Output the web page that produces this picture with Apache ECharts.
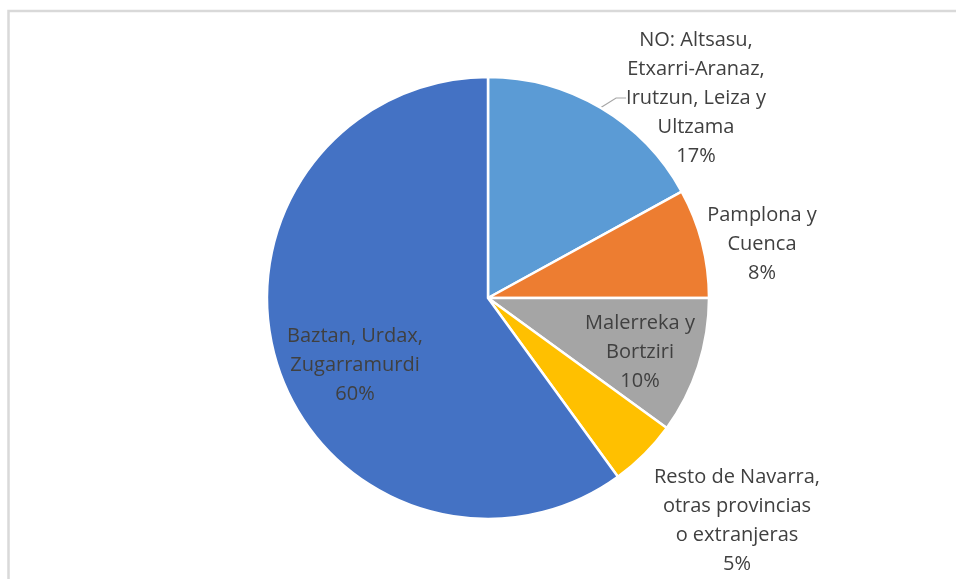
<!DOCTYPE html>
<html>
<head>
<meta charset="utf-8">
<script src="https://cdn.jsdelivr.net/npm/echarts@6/dist/echarts.min.js"></script>
<style>
  html, body { margin: 0; padding: 0; background: #fff; }
  #chart { width: 956px; height: 579px; }
</style>
</head>
<body>
<div id="chart"></div>
<script>
// slices, clockwise from 12 o'clock
const categories = [
  'NO: Altsasu,\nEtxarri-Aranaz,\nIrutzun, Leiza y\nUltzama',
  'Pamplona y\nCuenca',
  'Malerreka y\nBortziri',
  'Resto de Navarra,\notras provincias\no extranjeras',
  'Baztan, Urdax,\nZugarramurdi'
];
const shares = [17, 8, 10, 5, 60];
const colors = ['#5B9BD5', '#ED7D31', '#A5A5A5', '#FFC000', '#4472C4'];

// label block centres (px), one per slice
const labelSpots = [[696, 98], [762, 244], [640, 352], [737, 521], [355, 365]];
const showLine = [true, false, false, false, false];

const myChart = echarts.init(document.getElementById('chart'));
const option = {
  animation: false,
  graphic: [
    {
      type: 'rect',
      shape: { x: 8.5, y: 11, width: 1200, height: 1200 },
      style: { fill: 'none', stroke: '#d9d9d9', lineWidth: 2.5 },
      silent: true
    }
  ],
  series: [
    {
      type: 'pie',
      center: [488, 298],
      radius: [0, 221],
      startAngle: 90,
      clockwise: true,
      avoidLabelOverlap: false,
      percentPrecision: 0,
      itemStyle: { borderColor: '#fff', borderWidth: 2.5 },
      label: {
        show: true,
        position: 'outside',
        formatter: '{b}\n{d}%',
        fontFamily: 'Open Sans',
        fontSize: 20,
        lineHeight: 29,
        color: '#404040',
        align: 'center'
      },
      labelLine: {
        show: true,
        length: 6,
        length2: 10,
        lineStyle: { color: '#a6a6a6', width: 1.2 }
      },
      labelLayout: (params) => {
        const p = labelSpots[params.dataIndex];
        return { x: p[0], y: p[1], align: 'center', verticalAlign: 'middle' };
      },
      data: categories.map((name, i) => ({
        name: name,
        value: shares[i],
        itemStyle: { color: colors[i] },
        labelLine: { show: showLine[i] }
      }))
    }
  ]
};
myChart.setOption(option);
</script>
</body>
</html>
